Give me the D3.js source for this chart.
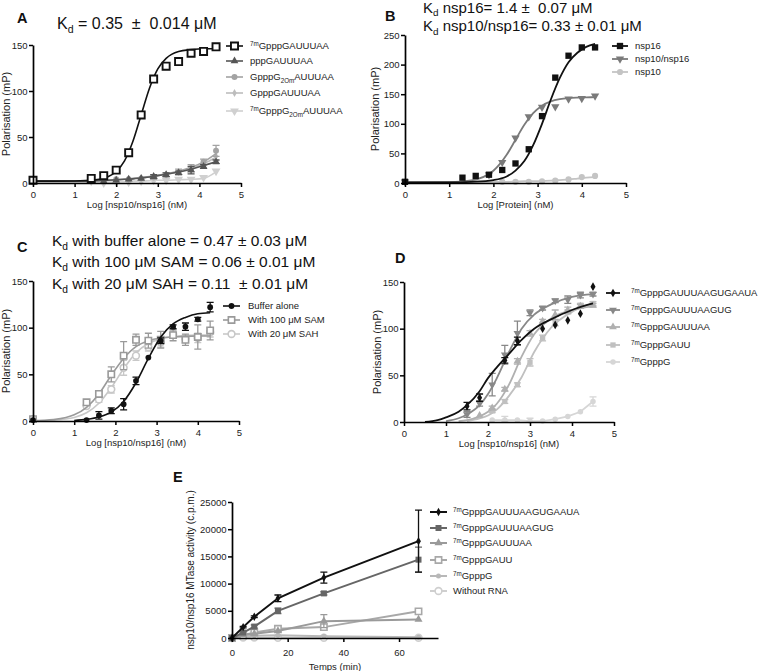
<!DOCTYPE html>
<html><head><meta charset="utf-8">
<script src="https://cdn.jsdelivr.net/npm/d3@7"></script>
<style>body{margin:0;background:#fff} svg{display:block} text{font-family:"Liberation Sans",Arial,sans-serif;white-space:pre}</style>
</head><body><svg id="c" width="760" height="671"></svg>
<script>
// ---------------- DATA ----------------
// Panel A
const aX = [0, 1.4, 1.7, 2.0, 2.3, 2.6, 2.9, 3.2, 3.5, 3.8, 4.1, 4.4];
const a7mGAUUUAA = [3, 5, 8, 14, 33, 74, 113, 127, 132, 141, 143, 148];
const aPppGAUUUAA = [2, 3, 2, 3, 4, 5, 7, 9, 11, 14, 18, 23];
const aGpppG2Om = [3, 4, 3, 4, 4, 5, 6, 9, 12, 16, 23, 35];
const aGpppGAUUUAA = [2, 3, 2, 3, 4, 5, 7, 9, 12, 15, 20, 29];
const a7mG2Om = [1, 2, 0, 1, 1, 2, 3, 3, 4, 4, 6, 13];
const aErrG2Om = [0, 0, 0, 0, 0, 0, 2, 2, 3, 4, 3, 6];
const aErrPpp = [0, 0, 0, 0, 0, 0, 2, 2, 2, 4, 2, 2];
const aFitX = [0, 1.0, 1.5, 1.8, 2.0, 2.2, 2.4, 2.6, 2.8, 3.0, 3.2, 3.5, 3.8, 4.1, 4.4];
const aFit7m = [2, 2.2, 3.4, 6.7, 12.5, 24, 45, 74, 103, 124, 135.5, 143, 145, 146, 146];
const aFitPpp = [2, 2, 2.5, 3, 3.5, 4, 4.5, 5.5, 6.5, 8, 9.5, 12, 15, 19, 23];
const aFitG2Om = [2, 2, 2.5, 3, 3.5, 4, 5, 6, 7, 8.5, 10, 13, 17, 23, 32];
const aFitGppp = [2, 2, 2.5, 3, 3.5, 4, 4.5, 5.5, 6.5, 8, 9.5, 12, 16, 21, 28];
const aFit7mG2Om = [1, 1, 1, 1, 1, 1.5, 2, 2, 2.5, 3, 3, 3.5, 4, 5, 12];
const aLegend = ["^{7m}GpppGAUUUAA", "pppGAUUUAA", "GpppG_{2Om}AUUUAA", "GpppGAUUUAA", "^{7m}GpppG_{2Om}AUUUAA"];

// Panel B
const bX = [0, 1.3, 1.6, 1.9, 2.2, 2.5, 2.8, 3.1, 3.4, 3.7, 4.0, 4.3];
const bNsp16 = [2, 9, 12, 14, 22, 33, 57, 113, 178, 215, 229, 229];
const bNsp10nsp16 = [2, null, null, 14, 35, 76, 112, 128, 129, 142, 143, 147];
const bNsp10 = [2, null, null, null, 2, 2, 2, 3, 4, 6, 10, 12];
const bFitX = [0, 1.0, 1.5, 2.0, 2.3, 2.5, 2.7, 2.9, 3.1, 3.3, 3.5, 3.7, 3.9, 4.1, 4.3];
const bFitNsp16 = [1, 1, 2, 5, 11, 21, 37, 64, 100, 141, 177, 204, 220, 230, 235];
const bFitNsp10nsp16 = [1, 1.6, 4.5, 20.7, 47.6, 73, 98.4, 118, 130.6, 137.8, 141.6, 143.5, 144.3, 144.7, 145];
const bFitNsp10 = [1, 1, 1, 2, 2, 2.5, 3, 3, 3.5, 4, 5, 6, 7.5, 9, 10];
const bLegend = ["nsp16", "nsp10/nsp16", "nsp10"];

// Panel C
const cX = [0, 1.3, 1.6, 1.9, 2.2, 2.5, 2.8, 3.1, 3.4, 3.7, 4.0, 4.3];
const cBuffer = [1, 1, 6, 11, 18, 43, 68, 86, 101, 101, 109, 122];
const cBufferErr = [0, 0, 4, 3, 6, 4, 0, 3, 2, 4, 2, 5];
const cSAM = [2, 20, 29, 50, 70, 87, 86, 87, 92, 87, 90, 97];
const cSAMErr = [0, 3, 3, 8, 15, 6, 8, 9, 6, 6, 13, 10];
const cSAH = [2, 16, 23, 34, 57, 70, 79, 84, 93, 88, 89, 95];
const cSAHErr = [0, 2, 3, 4, 8, 5, 4, 5, 4, 4, 5, 5];
const cFitX = [0, 0.5, 0.8, 1.0, 1.3, 1.6, 1.9, 2.2, 2.5, 2.8, 3.1, 3.4, 3.7, 4.0, 4.3];
const cFitBuffer = [null, null, null, 0.5, 1.7, 4.2, 9.6, 21, 41, 67, 90, 104, 111, 115, 116];
const cFitSAM = [0.4, 1.6, 3.8, 6.6, 14.7, 29, 49, 67, 79.6, 86, 89, 90, 90.7, 91, 91];
const cFitSAH = [0.2, 0.9, 2.1, 3.8, 8.8, 19, 35.8, 56, 73, 83, 88, 90.5, 91.5, 92, 92];
const cLegend = ["Buffer alone", "With 100 μM SAM", "With 20 μM SAH"];

// Panel D
const dX = [1.5, 1.8, 2.1, 2.4, 2.7, 3.0, 3.3, 3.6, 3.9, 4.2, 4.5];
const dLong = [17, 26, null, 66, 87, null, 100, 104, 109, 116, 145];
const dLongErr = [4, 4, 0, 3, 4, 0, 0, 0, 0, 0, 0];
const dAGUG = [8, 20, 40, 72, 95, 117, 122, 130, 131, 136, 137];
const dAGUGErr = [3, 3, 12, 10, 13, 3, 2, 2, 4, 3, 2];
const dGAUUUAA = [null, 7, 15, 35, 65, 95, 108, 115, 120, 124, 125];
const dGAUUUAAErr = [0, 0, 2, 2, 3, 3, 2, 5, 3, 2, 2];
const dGAUU = [null, null, 12, 22, 40, 64, 90, 106, 118, 125, 127];
const dGAUUErr = [0, 0, 2, 2, 2, 4, 3, 3, 2, 2, 2];
const dGpppG = [null, null, 2, 2, 2, 1, 1, 3, 6, 11, 22];
const dGpppGErr = [0, 0, 0, 4, 0, 3, 0, 0, 0, 0, 5];
const dFitX = [0.5, 0.8, 1.0, 1.3, 1.5, 1.8, 2.0, 2.2, 2.5, 2.8, 3.1, 3.5, 4.0, 4.5];
const dFitLong = [0, 2, 5, 11, 18, 33, 47, 58, 73, 88, 100, 110, 120, 127];
const dFitAGUG = [null, null, 1, 4, 8, 18, 30, 46, 75, 100, 115, 126, 134, 137];
const dFitGAUUUAA = [null, null, null, 1, 2, 6, 11, 19, 40, 70, 94, 111, 120, 124];
const dFitGAUU = [null, null, null, null, 1, 4, 7, 13, 28, 48, 75, 101, 118, 127];
const dLegend = ["^{7m}GpppGAUUUAAGUGAAUA", "^{7m}GpppGAUUUAAGUG", "^{7m}GpppGAUUUAA", "^{7m}GpppGAUU", "^{7m}GpppG"];

// Panel E (time positions as read against the 0-20-40-60 ticks)
const eX = [0, 4, 8, 16.5, 33, 67];
const eLong = [0, 2000, 3900, 7300, 11100, 17800];
const eLongErr = [0, 150, 150, 600, 1000, 5700];
const eAGUG = [0, 1000, 2100, 5000, 8200, 14400];
const eAGUGErr = [0, 0, 300, 500, 300, 2300];
const eGAUUUAA = [0, 600, 800, 1300, 3100, 3400];
const eGAUUUAAErr = [0, 0, 0, 0, 1200, 0];
const eGAUU = [0, 500, 1000, 1700, 2000, 4900];
const eGpppG = [0, 300, 400, 500, 300, 150];
const eNoRNA = [0, 100, 100, 50, 50, 50];
const eLegend = ["^{7m}GpppGAUUUAAGUGAAUA", "^{7m}GpppGAUUUAAGUG", "^{7m}GpppGAUUUAA", "^{7m}GpppGAUU", "^{7m}GpppG", "Without RNA"];

const logTicks = [0, 1, 2, 3, 4, 5];
const eXTicks = [0, 20, 40, 60];
const eYTicks = [0, 5000, 10000, 15000, 20000, 25000];

// ---------------- DRAWING ----------------
const FONT = '"Liberation Sans", Arial, sans-serif';
const svg = d3.select('#c');
const SYM = { square: d3.symbolSquare, circle: d3.symbolCircle, triangle: d3.symbolTriangle, tridown: d3.symbolTriangle, diamond: d3.symbolDiamond };

function rich(t, str, fs) {
  const parts = str.split(/(\^\{[^}]*\}|_\{[^}]*\})/).filter(s => s.length);
  let cur = 0;
  parts.forEach(p => {
    let off = 0, s = p, small = false;
    if (p.startsWith('^{')) { off = -0.36 * fs; s = p.slice(2, -1); small = true; }
    else if (p.startsWith('_{')) { off = 0.26 * fs; s = p.slice(2, -1); small = true; }
    const ts = t.append('tspan').text(s).attr('dy', off - cur);
    if (small) ts.attr('font-size', fs * 0.66);
    cur = off;
  });
}
function label(x, y, str, fs, opts = {}) {
  const t = svg.append('text').attr('x', x).attr('y', y).attr('font-size', fs).attr('fill', opts.fill || '#111')
    .attr('font-family', FONT);
  if (opts.bold) t.attr('font-weight', 'bold');
  if (opts.anchor) t.attr('text-anchor', opts.anchor);
  rich(t, str, fs);
  return t;
}
function marker(g, s, cx, cy) {
  const p = g.append('path').attr('d', d3.symbol().type(SYM[s.sym]).size(s.size)())
    .attr('transform', `translate(${cx},${cy})` + (s.sym === 'tridown' ? ' rotate(180)' : ''));
  if (s.open) p.attr('fill', '#fff').attr('stroke', s.color).attr('stroke-width', s.sw || 1.6);
  else p.attr('fill', s.color);
}

function panel(cfg) {
  const x = d3.scaleLinear().domain(cfg.xd).range(cfg.xr);
  const y = d3.scaleLinear().domain(cfg.yd).range(cfg.yr);
  const g = svg.append('g');
  cfg.series.slice().reverse().forEach(s => {
    const sg = g.append('g');
    const line = d3.line().defined(d => d[1] != null).x(d => x(d[0])).y(d => y(d[1]));
    if (s.fit) {
      line.curve(d3.curveMonotoneX);
      sg.append('path').attr('d', line(cfg.fitX.map((v, i) => [v, s.fit[i]])))
        .attr('fill', 'none').attr('stroke', s.color).attr('stroke-width', s.lw || 1.6);
    } else if (s.connect) {
      sg.append('path').attr('d', line(cfg.x.map((v, i) => [v, s.y[i]])))
        .attr('fill', 'none').attr('stroke', s.color).attr('stroke-width', s.lw || 1.6);
    }
    cfg.x.forEach((v, i) => {
      const val = s.y[i];
      if (val == null) return;
      const e = s.err ? s.err[i] : 0;
      if (e) {
        const cx = x(v), y1 = y(val + e), y2 = y(Math.max(cfg.yd[0], val - e));
        sg.append('path').attr('d', `M${cx},${y1}V${y2}M${cx - 3.5},${y1}H${cx + 3.5}M${cx - 3.5},${y2}H${cx + 3.5}`)
          .attr('stroke', s.color).attr('stroke-width', 1.3).attr('fill', 'none');
      }
      marker(sg, s, x(v), y(val));
    });
  });
  const ax = g.append('g').attr('transform', `translate(0,${cfg.yr[0]})`)
    .call(d3.axisBottom(x).tickValues(cfg.xt).tickSize(4).tickSizeOuter(0).tickPadding(cfg.xpad || 4).tickFormat(d3.format('d')));
  const ay = g.append('g').attr('transform', `translate(${cfg.xr[0]},0)`)
    .call(d3.axisLeft(y).tickValues(cfg.yt).tickSize(4).tickSizeOuter(0).tickPadding(1.5).tickFormat(d3.format('d')));
  [ax, ay].forEach(a => {
    a.attr('font-family', FONT).attr('font-size', 9.5);
    a.select('.domain').attr('stroke', '#000').attr('stroke-width', 1.7);
    a.selectAll('.tick line').attr('stroke', '#000').attr('stroke-width', 1.5);
    a.selectAll('.tick text').attr('fill', '#222');
  });
  svg.append('text').attr('x', (cfg.xr[0] + cfg.xr[1]) / 2 + (cfg.xtDx || 0)).attr('y', cfg.yr[0] + (cfg.xtitleDy || 25))
    .attr('text-anchor', 'middle').attr('font-size', 9.5).attr('font-family', FONT).attr('fill', '#222').text(cfg.xtitle);
  const cy = (cfg.yr[0] + cfg.yr[1]) / 2;
  svg.append('text').attr('transform', `translate(${cfg.ytx},${cy}) rotate(-90)`)
    .attr('text-anchor', 'middle').attr('font-size', cfg.yfs || 11).attr('font-family', FONT).attr('fill', '#222').text(cfg.ytitle);
  const L = cfg.legend;
  cfg.series.forEach((s, i) => {
    const ry = L.rows[i];
    svg.append('line').attr('x1', L.sx[0]).attr('x2', L.sx[1]).attr('y1', ry).attr('y2', ry)
      .attr('stroke', s.color).attr('stroke-width', s.lw || 1.6);
    marker(svg, s, (L.sx[0] + L.sx[1]) / 2, ry);
    label(L.tx, ry + 3.4, L.names[i], 9.5, { fill: '#222' });
  });
}

panel({
  xd: [0, 5], xr: [33, 241], yd: [0, 150], yr: [183, 45], xt: logTicks, yt: [0, 50, 100, 150],
  x: aX, fitX: aFitX, xtitle: 'Log [nsp10/nsp16] (nM)', ytitle: 'Polarisation (mP)', ytx: 10,
  series: [
    { y: a7mGAUUUAA, fit: aFit7m, color: '#111', sym: 'square', open: true, size: 50, sw: 1.9 },
    { y: aPppGAUUUAA, fit: aFitPpp, err: aErrPpp, color: '#555', sym: 'triangle', size: 26 },
    { y: aGpppG2Om, fit: aFitG2Om, err: aErrG2Om, color: '#a3a3a3', sym: 'circle', size: 28 },
    { y: aGpppGAUUUAA, fit: aFitGppp, color: '#bdbdbd', sym: 'diamond', size: 18 },
    { y: a7mG2Om, fit: aFit7mG2Om, color: '#d0d0d0', sym: 'tridown', size: 34 }
  ],
  legend: { sx: [226, 243], tx: 250, rows: [46, 61, 77, 93, 111], names: aLegend }
});
panel({
  xd: [0, 5], xr: [405, 626], yd: [0, 250], yr: [183, 35], xt: logTicks, yt: [0, 50, 100, 150, 200, 250],
  x: bX, fitX: bFitX, xtitle: 'Log [Protein] (nM)', ytitle: 'Polarisation (mP)', ytx: 379,
  series: [
    { y: bNsp16, fit: bFitNsp16, color: '#111', sym: 'square', size: 40, lw: 1.8 },
    { y: bNsp10nsp16, fit: bFitNsp10nsp16, color: '#7a7a7a', sym: 'tridown', size: 30, lw: 1.8 },
    { y: bNsp10, fit: bFitNsp10, color: '#c4c4c4', sym: 'circle', size: 30, lw: 1.8 }
  ],
  legend: { sx: [612, 628], tx: 635, rows: [46, 59, 72], names: bLegend }
});
panel({
  xd: [0, 5], xr: [33, 239], yd: [0, 150], yr: [421, 281], xt: logTicks, yt: [0, 50, 100, 150],
  x: cX, fitX: cFitX, xtitle: 'Log [nsp10/nsp16] (nM)', ytitle: 'Polarisation (mP)', ytx: 10,
  series: [
    { y: cBuffer, fit: cFitBuffer, err: cBufferErr, color: '#111', sym: 'circle', size: 26 },
    { y: cSAM, fit: cFitSAM, err: cSAMErr, color: '#9a9a9a', sym: 'square', open: true, size: 40 },
    { y: cSAH, fit: cFitSAH, err: cSAHErr, color: '#c8c8c8', sym: 'circle', open: true, size: 36 }
  ],
  legend: { sx: [223, 240], tx: 248, rows: [306, 320, 334], names: cLegend }
});
panel({
  xd: [0, 5], xr: [404, 614], yd: [0, 150], yr: [422, 282], xt: logTicks, yt: [0, 50, 100, 150],
  x: dX, fitX: dFitX, xtitle: 'Log [nsp10/nsp16] (nM)', ytitle: 'Polarisation (mP)', ytx: 381,
  series: [
    { y: dLong, fit: dFitLong, err: dLongErr, color: '#111', sym: 'diamond', size: 22, lw: 1.8 },
    { y: dAGUG, fit: dFitAGUG, err: dAGUGErr, color: '#888', sym: 'tridown', size: 26, lw: 1.8 },
    { y: dGAUUUAA, fit: dFitGAUUUAA, err: dGAUUUAAErr, color: '#b0b0b0', sym: 'triangle', size: 26, lw: 1.8 },
    { y: dGAUU, fit: dFitGAUU, err: dGAUUErr, color: '#c0c0c0', sym: 'square', size: 28, lw: 1.8 },
    { y: dGpppG, connect: true, err: dGpppGErr, color: '#d6d6d6', sym: 'circle', size: 24, lw: 1.8 }
  ],
  legend: { sx: [606, 620], tx: 631, rows: [293, 310, 327, 345, 362], names: dLegend }
});
panel({
  xd: [0, 74], xr: [232, 438], yd: [0, 25000], yr: [638, 502], xt: eXTicks, yt: eYTicks, xpad: 7,
  x: eX, xtitle: 'Temps (min)', xtitleDy: 31.5, ytitle: 'nsp10/nsp16 MTase activity (c.p.m.)', ytx: 194, yfs: 10,
  series: [
    { y: eLong, connect: true, err: eLongErr, color: '#111', sym: 'diamond', size: 20, lw: 2 },
    { y: eAGUG, connect: true, err: eAGUGErr, color: '#666', sym: 'square', size: 36, lw: 2 },
    { y: eGAUUUAA, connect: true, err: eGAUUUAAErr, color: '#9a9a9a', sym: 'triangle', size: 28, lw: 2 },
    { y: eGAUU, connect: true, color: '#a8a8a8', sym: 'square', open: true, size: 40, lw: 2 },
    { y: eGpppG, connect: true, color: '#b8b8b8', sym: 'circle', size: 20, lw: 2 },
    { y: eNoRNA, connect: true, color: '#cfcfcf', sym: 'circle', open: true, size: 36, lw: 2 }
  ],
  legend: { sx: [430, 447], tx: 453, rows: [512, 528, 543, 560, 576, 591], names: eLegend }
});

label(17, 23, 'A', 14.5, { bold: true });
label(385, 21, 'B', 14.5, { bold: true });
label(17, 252, 'C', 14.5, { bold: true });
label(395, 263, 'D', 14.5, { bold: true });
label(173, 482, 'E', 14.5, { bold: true });
label(57, 29, 'K_{d} = 0.35  ±  0.014 μM', 16);
label(423, 12.5, 'K_{d} nsp16= 1.4 ±  0.07 μM', 15);
label(423, 31, 'K_{d} nsp10/nsp16= 0.33 ± 0.01 μM', 15);
label(52, 246, 'K_{d} with buffer alone = 0.47 ± 0.03 μM', 15.5);
label(52, 267, 'K_{d} with 100 μM SAM = 0.06 ± 0.01 μM', 15.5);
label(52, 289, 'K_{d} with 20 μM SAH = 0.11  ± 0.01 μM', 15.5);
</script></body></html>
